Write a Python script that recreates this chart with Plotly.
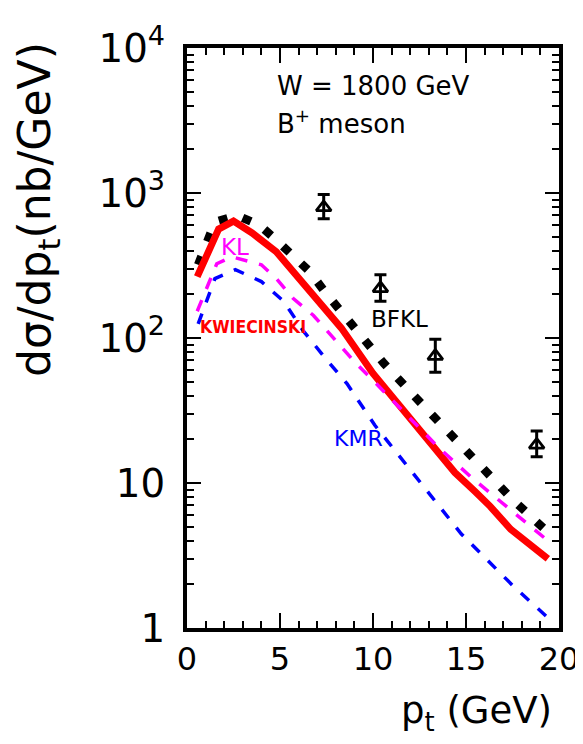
import plotly.graph_objects as go

# ---- data ----
bfkl_x = [0.6, 1.5, 2.7, 3.9, 4.8, 5.7, 6.6, 7.4, 9.0, 10.6, 12.3, 14.1, 15.7, 16.6, 17.5, 19.3]
bfkl_y = [320, 630, 700, 600, 474, 374, 287, 209, 117, 66.5, 38.8, 22, 13, 10.1, 7.7, 4.7]

kwi_x = [0.55, 1.7, 2.5, 3.5, 4.8, 6.5, 8.3, 10.0, 11.5, 13.0, 14.4, 15.5, 16.3, 17.4, 18.5, 19.4]
kwi_y = [265, 564, 640, 530, 393, 219, 117, 57, 33.5, 19.5, 11.8, 8.7, 6.9, 4.8, 3.7, 3.0]

kl_x = [0.55, 1.6, 2.4, 4.0, 4.8, 5.7, 6.8, 8.0, 9.1, 10.1, 11.8, 13.5, 15.3, 16.4, 18.3, 19.3]
kl_y = [153, 325, 363, 320, 257, 188, 143, 96, 66.5, 49.5, 29.7, 17.7, 10.9, 8.35, 5.2, 4.1]

kmr_x = [0.6, 1.5, 2.6, 4.0, 5.2, 6.25, 7.5, 8.6, 10.1, 11.7, 13.3, 14.75, 16.0, 17.5, 19.3]
kmr_y = [125, 257, 296, 245, 179, 112, 71, 48.5, 25, 13.9, 7.7, 4.45, 3.07, 1.97, 1.21]

data_x = [7.35, 10.4, 13.35, 18.8]
data_y = [795, 220, 75, 18.3]
data_err_up = [180, 53, 23, 4.5]
data_err_dn = [130, 41, 17, 3.1]

FONT = "DejaVu Sans"

fig = go.Figure()
fig.add_trace(go.Scatter(x=bfkl_x, y=bfkl_y, mode="lines",
                         line=dict(color="black", width=8.5, dash="9px,16px")))
fig.add_trace(go.Scatter(x=kwi_x, y=kwi_y, mode="lines",
                         line=dict(color="#ff0000", width=7)))
fig.add_trace(go.Scatter(x=kl_x, y=kl_y, mode="lines",
                         line=dict(color="#ff00ff", width=3.5, dash="12px,12px")))
fig.add_trace(go.Scatter(x=kmr_x, y=kmr_y, mode="lines",
                         line=dict(color="#0000ff", width=3.5, dash="11px,12px")))
fig.add_trace(go.Scatter(x=data_x, y=data_y, mode="markers",
                         marker=dict(symbol="triangle-up-open", size=13, color="black",
                                     line=dict(width=2.8, color="black")),
                         error_y=dict(type="data", array=data_err_up, arrayminus=data_err_dn,
                                      color="black", thickness=3, width=6)))

tick_style = dict(ticks="inside", tickwidth=2, tickcolor="black", showgrid=False,
                  zeroline=False, showline=True, linecolor="black", linewidth=3.5,
                  mirror="allticks")

fig.update_layout(
    xaxis=dict(range=[0, 20], tickmode="linear", tick0=0, dtick=5, ticklen=15,
               tickfont=dict(family=FONT, size=32, color="black"),
               minor=dict(ticks="inside", dtick=1, ticklen=7, tickwidth=2,
                          tickcolor="black", showgrid=False),
               **tick_style),
    yaxis=dict(type="log", range=[0, 4], tickmode="linear", tick0=0, dtick=1,
               exponentformat="power", ticklen=14, ticklabelstandoff=12,
               tickfont=dict(family=FONT, size=31, color="black"),
               minor=dict(ticks="inside", dtick="D1", ticklen=7, tickwidth=2,
                          tickcolor="black", showgrid=False),
               **tick_style),
)

ann = []
def txt(x, y, s, size, color="black", xanchor="center", family=FONT):
    ann.append(dict(x=x, y=y, xref="x", yref="y", text=s, showarrow=False,
                    xanchor=xanchor, yanchor="middle",
                    font=dict(family=family, size=size, color=color)))

txt(4.74, 3.74, "W = 1800 GeV", 26, xanchor="left")
txt(4.74, 3.49, "B<sup>+</sup> meson", 26, xanchor="left")
txt(2.6, 2.63, "KL", 23, color="#ff00ff")
txt(3.55, 2.075, "<b>KWIECINSKI</b>", 17.5, color="#ff0000",
    family="DejaVu Sans Condensed, DejaVu Sans")
txt(11.45, 2.13, "BFKL", 23)
txt(9.2, 1.31, "KMR", 22, color="#0000ff")

ann.append(dict(x=-0.40, y=0.721, xref="paper", yref="paper",
                text="dσ/dp<sub>t</sub>(nb/GeV)", showarrow=False, textangle=-90,
                xanchor="center", yanchor="middle",
                font=dict(family=FONT, size=44, color="black")))
ann.append(dict(x=0.987, y=-0.147, xref="paper", yref="paper",
                text="p<sub>t</sub> (GeV)", showarrow=False,
                xanchor="right", yanchor="middle",
                font=dict(family=FONT, size=37, color="black")))

fig.update_layout(width=583, height=744, showlegend=False,
                  margin=dict(l=179, r=23, t=34, b=124),
                  paper_bgcolor="white", plot_bgcolor="white",
                  annotations=ann)

fig.write_html("out.html")
